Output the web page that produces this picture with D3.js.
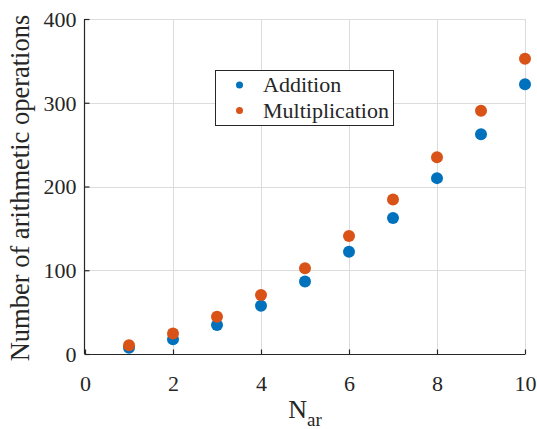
<!DOCTYPE html>
<html>
<head>
<meta charset="utf-8">
<script src="https://cdn.jsdelivr.net/npm/d3@7"></script>
<style>
  html, body { margin: 0; padding: 0; background: #fff; }
  svg { display: block; }
  svg text { font-family: 'Liberation Serif', 'Times New Roman', Times, 'DejaVu Serif', serif !important; fill: #262626; }
</style>
</head>
<body>
<svg id="chart" width="537" height="429"></svg>
<script>
// Operation counts per N_ar
const nValues = [1, 2, 3, 4, 5, 6, 7, 8, 9, 10];
const additionOps = [7.5, 17.5, 34.5, 57.5, 86.5, 122, 162.5, 210, 262.5, 322];
const multiplicationOps = [10.5, 24.5, 44.5, 70.5, 102.5, 141, 184.5, 235, 290.5, 352.5];
const xTicks = [0, 2, 4, 6, 8, 10];
const yTicks = [0, 100, 200, 300, 400];
const seriesNames = ["Addition", "Multiplication"];
const seriesColors = ["#0072BD", "#D95319"];

const svg = d3.select("#chart");
const plotLeft = 85, plotRight = 525, plotTop = 19, plotBottom = 354;

const x = d3.scaleLinear().domain([0, 10]).range([plotLeft, plotRight]);
const y = d3.scaleLinear().domain([0, 400]).range([plotBottom, plotTop]);

// grid
const grid = svg.append("g").attr("stroke", "#dcdcdc").attr("stroke-width", 1);
grid.selectAll("line.vx").data(xTicks.filter(d => d > 0)).join("line")
  .attr("x1", d => Math.round(x(d)) + 0.5).attr("x2", d => Math.round(x(d)) + 0.5)
  .attr("y1", plotTop).attr("y2", plotBottom);
grid.selectAll("line.hy").data(yTicks.filter(d => d > 0)).join("line")
  .attr("y1", d => Math.round(y(d)) + 0.5).attr("y2", d => Math.round(y(d)) + 0.5)
  .attr("x1", plotLeft).attr("x2", plotRight);

// axes (ticks point inward)
const xAxis = d3.axisBottom(x).tickValues(xTicks).tickSize(-5).tickPadding(21).tickFormat(d3.format("d"));
const yAxis = d3.axisLeft(y).tickValues(yTicks).tickSize(-5).tickPadding(8).tickFormat(d3.format("d"));

const gx = svg.append("g").attr("transform", `translate(0,${plotBottom + 0.5})`).call(xAxis);
const gy = svg.append("g").attr("transform", `translate(${plotLeft - 0.5},0)`).call(yAxis);
[gx, gy].forEach(g => {
  g.attr("font-family", null).attr("font-size", 22);
  g.select(".domain").attr("stroke", "#262626").attr("stroke-width", 1.2);
  g.selectAll(".tick line").attr("stroke", "#262626").attr("stroke-width", 1.2);
  g.selectAll(".tick text").attr("font-size", 22).attr("fill", "#262626");
});
gx.select(".domain").attr("d", `M${plotLeft},0H${plotRight}`);
gy.select(".domain").attr("d", `M0,${plotTop}V${plotBottom}`);
gy.selectAll(".tick text").attr("dy", "0.34em");

// points
const series = [additionOps, multiplicationOps];
series.forEach((vals, i) => {
  svg.append("g").selectAll("circle").data(vals).join("circle")
    .attr("cx", (d, j) => x(nValues[j]))
    .attr("cy", d => y(d))
    .attr("r", 6)
    .attr("fill", seriesColors[i]);
});

// axis labels
svg.append("text")
  .attr("transform", `translate(29,188) rotate(-90)`)
  .attr("text-anchor", "middle")
  .attr("font-size", 26.5)
  .text("Number of arithmetic operations");

const xl = svg.append("text")
  .attr("x", (plotLeft + plotRight) / 2)
  .attr("y", 418)
  .attr("text-anchor", "middle")
  .attr("font-size", 26);
xl.append("tspan").text("N");
xl.append("tspan").attr("font-size", 19).attr("dy", 8).text("ar");

// legend
const lg = svg.append("g");
lg.append("rect")
  .attr("x", 215.5).attr("y", 70.5).attr("width", 178).attr("height", 55)
  .attr("fill", "#fff").attr("stroke", "#262626").attr("stroke-width", 1);
seriesNames.forEach((name, i) => {
  const cy = 85 + i * 25.5;
  lg.append("circle").attr("cx", 239.5).attr("cy", cy).attr("r", 3.5).attr("fill", seriesColors[i]);
  lg.append("text").attr("x", 263).attr("y", cy).attr("dy", "0.34em")
    .attr("font-size", 22).text(name);
});
</script>
</body>
</html>
